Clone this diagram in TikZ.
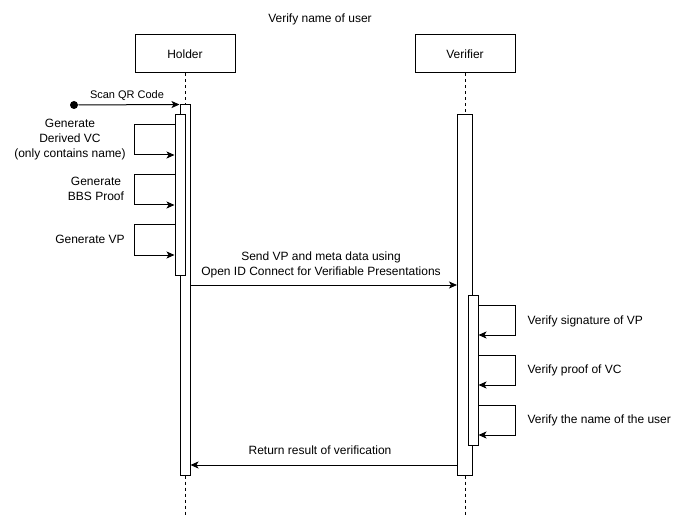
\documentclass[tikz,border=0pt]{standalone}
\usepackage{fontspec}
\setmainfont{Liberation Sans}
\usetikzlibrary{arrows.meta}
\begin{document}
\begin{tikzpicture}[x=1pt,y=-1pt,line width=1pt]
\tikzset{kasten/.style={draw,fill=white,minimum width=100pt,minimum height=38pt,inner sep=0pt,font=\fontsize{12}{15}\selectfont}}
\tikzset{balken/.style={draw,fill=white,minimum width=10pt,inner sep=0pt}}
\tikzset{leben/.style={dash pattern=on 3pt off 3pt}}
\tikzset{pfeil/.style={-{Stealth[length=8pt,width=7pt,inset=2pt]}}}
\tikzset{txt/.style={inner sep=0pt,align=center,font=\fontsize{12}{15}\selectfont}}
\useasboundingbox (0,0) rectangle (690,521);
% Titel und Teilnehmer
\node [txt] (titel) at (320,19) {Verify name of user};
\node [kasten] (holder) at (185,54) {Holder};
\node [kasten] (verifier) at (465,54) {Verifier};
\coordinate (hende) at (185,515);
\coordinate (vende) at (465,515);
\draw[leben] (holder) to (hende);
\draw[leben] (verifier) to (vende);
% Aktivierungen
\node [balken,minimum height=370pt] (hakt) at (185,290) {};
\node [balken,minimum height=160pt] (hsub) at (180,195) {};
\node [balken,minimum width=15pt,minimum height=360pt] (vakt) at (465,295) {};
\node [balken,minimum height=150pt] (vsub) at (473,370) {};
% Start
\node [circle,fill=black,inner sep=0pt,minimum size=8pt] (start) at (74,105) {};
\draw[pfeil] (start) to (hakt.north west);
\node [txt,font=\fontsize{11}{13}\selectfont] (scan) at (127,96) {Scan QR Code};
% Holder
\draw[pfeil] (hsub.west |- 0,125) -- ++(-40,0) |- (hsub.west |- 0,155);
\draw[pfeil] (hsub.west |- 0,175) -- ++(-40,0) |- (hsub.west |- 0,205);
\draw[pfeil] (hsub.west |- 0,225) -- ++(-40,0) |- (hsub.west |- 0,255);
\node [txt] (derived) at (70,140) {Generate\\Derived VC\\(only contains name)};
\node [txt] (bbs) at (96,189) {Generate\\BBS Proof};
\node [txt] (vp) at (90,239) {Generate VP};
% Nachrichten
\draw[pfeil] (hakt.east |- 0,285) -- (vakt.west |- 0,285);
\node [txt] (send) at (321,265) {Send VP and meta data using\\Open ID Connect for Verifiable Presentations};
\draw[pfeil] (vakt.west |- 0,465) -- (hakt.east |- 0,465);
\node [txt] (result) at (320,450) {Return result of verification};
% Verifier
\draw[pfeil] (vsub.east |- 0,305) -- ++(37,0) |- (vsub.east |- 0,335);
\draw[pfeil] (vsub.east |- 0,355) -- ++(37,0) |- (vsub.east |- 0,385);
\draw[pfeil] (vsub.east |- 0,405) -- ++(37,0) |- (vsub.east |- 0,435);
\node [txt,anchor=west] (sig) at (527,321) {Verify signature of VP};
\node [txt,anchor=west] (proof) at (527,370) {Verify proof of VC};
\node [txt,anchor=west] (name) at (527,420) {Verify the name of the user};
\end{tikzpicture}
\end{document}
